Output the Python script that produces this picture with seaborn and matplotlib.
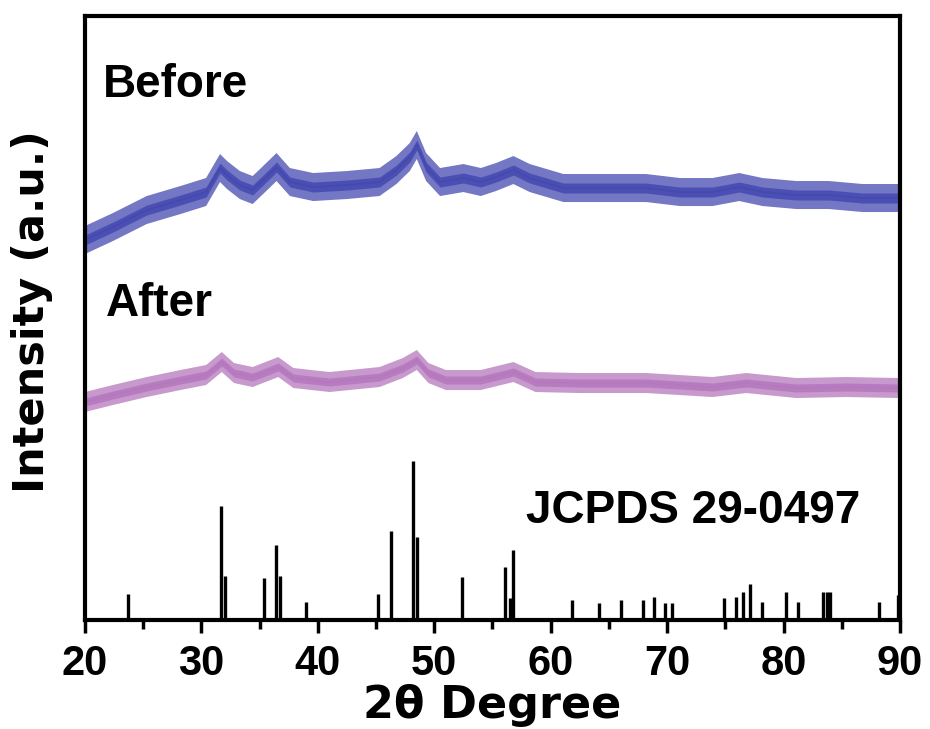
import numpy as np
import pandas as pd
import matplotlib
matplotlib.use("Agg")
import matplotlib.pyplot as plt
import seaborn as sns

# patron "Before": centro de la banda (u.a.)
before_x = [20, 22.4, 25.3, 28.2, 30.4, 31.6, 32.2, 33.3, 34.4, 35.3, 36.45, 37.6,
            39.6, 42.5, 45.3, 46.75, 47.9, 48.5, 49.3, 50.5, 52.5, 54, 55.3, 56.8,
            58.2, 61.1, 65.35, 68.2, 71.1, 73.9, 76.2, 78.2, 81.1, 83.9, 86.8, 90]
before_y = [380, 393, 410, 420, 428, 452, 445, 435, 430, 440, 453, 438,
            433, 435, 438, 450, 463, 475, 453, 438, 442, 438, 443, 450,
            442, 432, 432, 432, 428, 428, 433, 428, 425, 425, 422, 422]

# patron "After"
after_x = [20, 22.4, 25.3, 28.2, 30.4, 31.75, 32.8, 34.4, 36.6, 37.9, 41, 45.3,
           47.3, 48.5, 49.5, 51, 54, 56.8, 58.7, 62.5, 68.2, 73.9, 76.8, 81.1,
           85.4, 90]
after_y = [218, 225, 233, 240, 245, 258, 247, 243, 253, 242, 238, 243,
           252, 260, 247, 240, 240, 248, 238, 237, 237, 233, 237, 232,
           233, 232]

# ruido: semiancho del nucleo y de los picos (u.a.)
before_core, before_spike = 5, 14
after_core, after_spike = 4, 10

# JCPDS 29-0497: posiciones y alturas de las lineas
ref_pos = [23.72, 31.65, 32.0, 35.4, 36.37, 36.74, 38.97, 45.18, 46.32, 48.18,
           48.53, 52.36, 56.05, 56.48, 56.77, 61.86, 64.12, 66.07, 67.93, 68.84,
           69.79, 70.45, 74.88, 75.94, 76.51, 77.14, 78.14, 80.23, 81.23, 83.38,
           83.73, 84.0, 88.18, 89.8]
ref_int = [26, 114, 44, 42, 75, 44, 18, 26, 89, 159,
           83, 43, 53, 22, 70, 20, 17, 20, 20, 23,
           17, 17, 22, 23, 28, 36, 18, 28, 18, 28,
           28, 28, 18, 25]

xticks = [20, 30, 40, 50, 60, 70, 80, 90]

df_before = pd.DataFrame({"x": before_x, "y": before_y})
df_after = pd.DataFrame({"x": after_x, "y": after_y})

sns.set_style("white")
plt.rcParams['font.family'] = ['Liberation Sans', 'DejaVu Sans']
plt.rcParams['font.weight'] = 'bold'
plt.rcParams['text.color'] = 'black'
plt.rcParams['axes.labelcolor'] = 'black'
plt.rcParams['xtick.color'] = 'black'
plt.rcParams['hatch.linewidth'] = 1.0

fig = plt.figure(figsize=(9.3, 7.29), dpi=100)
ax = fig.add_axes([0.0914, 0.1495, 0.8763, 0.8285])

azul = "#4449b0"
lila = "#b577bd"

for d, c, core, spike in [(df_before, azul, before_core, before_spike),
                          (df_after, lila, after_core, after_spike)]:
    y = d["y"].to_numpy()
    # picos del ruido como textura vertical
    ax.fill_between(d["x"], y - spike, y + spike, facecolor="none", edgecolor=c,
                    hatch="|" * 16, lw=0, alpha=0.75)
    ax.fill_between(d["x"], y - core, y + core, color=c, alpha=0.85, lw=0)
    sns.lineplot(data=d, x="x", y="y", ax=ax, color=c, lw=1.2)

ax.vlines(ref_pos, 0, ref_int, color="black", lw=2.4)

ax.set_xlim(20, 90)
ax.set_ylim(0, 604)
ax.set_xticks(xticks)
ax.set_xticks([25, 35, 45, 55, 65, 75, 85], minor=True)
ax.set_yticks([])
ax.tick_params(axis='x', which='major', direction='out', length=9.5, width=2.5,
               pad=8, labelsize=30, bottom=True, labelcolor='black')
ax.tick_params(axis='x', which='minor', direction='out', length=6.5, width=2.5,
               bottom=True)
for s in ax.spines.values():
    s.set_linewidth(3)
    s.set_color("black")

ax.set_xlabel("2θ Degree", fontsize=32, fontweight='bold',
              family=['DejaVu Sans'], labelpad=0)
ax.set_ylabel("Intensity (a.u.)", fontsize=31, fontweight='bold',
              family=['DejaVu Sans'])
ax.yaxis.set_label_coords(-0.039, 0.51)

ax.text(21.5, 523, "Before", fontsize=33, fontweight='bold', va='baseline')
ax.text(21.8, 304, "After", fontsize=33, fontweight='bold', va='baseline')
ax.text(57.9, 97, "JCPDS 29-0497", fontsize=33, fontweight='bold', va='baseline')

fig.savefig("out.png", dpi=100)
